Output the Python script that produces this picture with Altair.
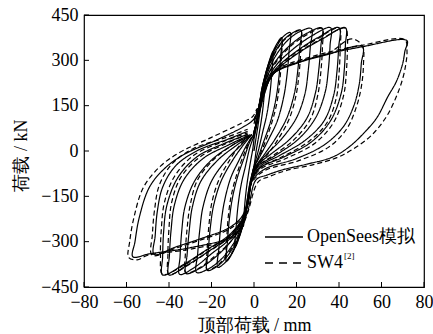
import altair as alt
import pandas as pd

# ---- data ----
x_ticks = [-80, -60, -40, -20, 0, 20, 40, 60, 80]
y_ticks = [-450, -300, -150, 0, 150, 300, 450]

# OpenSees simulation cycles: (displacement mm, load kN)
sim_c1 = [(0, 0), (2, 90), (4, 190), (5.5, 250), (5, 200), (4, 130), (2.5, 60), (1, 0), (0, -50), (-2, -110),
          (-4, -200), (-5, -250), (-4.5, -190), (-3.5, -120), (-2, -50), (-0.5, 10), (0, 40)]
sim_c2 = [(0, 40), (2, 110), (4, 200), (6, 270), (9, 330), (8.5, 270), (7.5, 190), (6, 120), (4, 60), (2, 0),
          (0, -50), (-2, -110), (-4, -200), (-6, -265), (-9, -320), (-8.5, -260), (-7.5, -180), (-6, -110),
          (-4, -50), (-2, 10), (0, 50)]
sim_c3 = [(0, 50), (2, 120), (4, 210), (7, 290), (10, 345), (13, 375), (12.5, 310), (11.5, 230), (10, 160),
          (7.5, 90), (4.5, 30), (2, -20), (0, -55), (-2, -120), (-4, -200), (-7, -280), (-10, -335), (-13, -365),
          (-12.5, -300), (-11.5, -220), (-10, -150), (-7.5, -80), (-4.5, -20), (-2, 30), (0, 55)]
sim_c4 = [(0, 55), (2, 125), (4, 215), (7, 290), (11, 350), (14, 380), (17, 392), (16.5, 330), (15.5, 250),
          (14, 180), (11, 100), (7, 40), (3, -15), (0, -55), (-2, -125), (-4, -210), (-7, -285), (-11, -345),
          (-14, -372), (-17, -385), (-16.5, -320), (-15.5, -240), (-14, -170), (-11, -90), (-7, -30), (-3, 25),
          (0, 55)]
sim_c5 = [(0, 55), (2, 125), (4, 215), (8, 300), (13, 360), (18, 390), (22, 400), (21.5, 340), (20.5, 260),
          (19, 190), (15.5, 110), (10, 40), (5, -10), (1, -50), (-1, -90), (-3, -170), (-5, -240), (-9, -310),
          (-14, -360), (-18, -385), (-22, -395), (-21.5, -330), (-20.5, -250), (-19, -180), (-15.5, -100),
          (-10, -30), (-5, 20), (-1, 55)]
sim_c6 = [(0, 55), (2, 130), (5, 230), (9, 300), (15, 360), (21, 393), (27, 405), (26.5, 345), (25.5, 265),
          (24, 190), (20, 110), (13, 40), (6, -10), (1, -50), (-1, -90), (-3, -170), (-6, -250), (-10, -310),
          (-16, -362), (-22, -392), (-27, -402), (-26.5, -340), (-25.5, -260), (-24, -185), (-20, -100),
          (-13, -30), (-6, 20), (-1, 55)]
sim_c7 = [(0, 55), (2, 130), (5, 225), (10, 295), (17, 350), (25, 390), (32, 407), (31.5, 350), (30.5, 270),
          (29, 195), (25, 110), (17, 40), (8, -10), (2, -45), (-1, -90), (-3, -170), (-6, -245), (-11, -300),
          (-18, -350), (-26, -390), (-32, -405), (-31.5, -345), (-30.5, -265), (-29, -185), (-25, -100),
          (-17, -30), (-8, 20), (-2, 50)]
sim_c8 = [(0, 55), (2, 125), (5, 215), (10, 280), (18, 335), (27, 380), (36, 408), (35.8, 350), (35, 270),
          (33.5, 195), (29, 110), (21, 40), (10, -15), (2, -50), (-1, -95), (-3, -175), (-6, -240), (-12, -295),
          (-20, -340), (-28, -385), (-35, -408), (-34.8, -350), (-34, -265), (-32.5, -185), (-28, -100),
          (-20, -30), (-10, 20), (-2, 50)]
sim_c9 = [(0, 55), (2, 120), (5, 210), (10, 270), (20, 330), (30, 375), (40, 408), (39.8, 340), (39, 260),
          (37.5, 185), (33, 100), (24, 35), (12, -15), (3, -50), (-1, -95), (-3, -175), (-6, -235), (-12, -285),
          (-22, -335), (-32, -380), (-40, -410), (-39.8, -345), (-39, -260), (-37.5, -180), (-33, -95),
          (-24, -25), (-12, 20), (-3, 50)]
sim_c10 = [(0, 55), (2, 115), (5, 200), (10, 262), (20, 320), (32, 370), (43, 408), (43, 350), (42.5, 270),
           (41, 190), (36, 100), (27, 30), (14, -20), (3, -55), (-1, -95), (-3, -175), (-6, -230), (-12, -280),
           (-23, -330), (-33, -375), (-43, -410), (-43, -350), (-42.5, -265), (-41, -180), (-36, -90),
           (-27, -20), (-14, 25), (-3, 55)]
sim_c11 = [(0, 60), (2, 110), (5, 190), (9, 255), (20, 290), (35, 320), (51, 345), (50.5, 290), (49.5, 220),
           (47, 150), (42, 80), (33, 20), (20, -25), (5, -60), (-1, -100), (-3, -170), (-6, -220), (-12, -255),
           (-25, -290), (-37, -318), (-47, -342), (-46.5, -280), (-45.5, -200), (-43, -120), (-37, -50),
           (-27, 0), (-12, 40), (-3, 65)]
sim_c12 = [(0, 90), (2, 140), (5, 200), (9, 255), (26, 305), (51, 345), (72, 365), (71, 330), (70, 290),
           (67, 230), (63, 180), (58, 112), (53, 69), (45, 15), (37, -20), (24, -45), (13.6, -62), (6, -80),
           (1, -95), (-3, -200), (-6, -250), (-11, -285), (-30, -320), (-49, -340), (-57, -350), (-56, -300),
           (-54, -220), (-49, -117), (-41, -51), (-32, -8), (-17.7, 36), (-5, 80), (-0.5, 102), (1.3, 125)]

# SW4 test cycles
exp_c3 = [(0, 50), (2, 115), (4, 200), (7, 285), (10, 340), (13, 372), (12.8, 300), (12, 220), (10.5, 150),
          (8, 85), (5, 25), (2, -25), (0, -60), (-2, -125), (-4, -205), (-7, -282), (-10, -333), (-13, -362),
          (-12.8, -290), (-12, -210), (-10.5, -140), (-8, -75), (-5, -15), (-2, 35), (0, 60)]
exp_c5 = [(0, 60), (2, 130), (4, 210), (8, 295), (13, 358), (18, 388), (22, 398), (22, 335), (21.2, 255),
          (19.8, 185), (16.5, 105), (11, 35), (6, -15), (1, -55), (-1, -95), (-3, -175), (-5, -240), (-9, -305),
          (-14, -355), (-18, -382), (-22, -393), (-22, -325), (-21.2, -245), (-19.8, -170), (-16.5, -95),
          (-11, -25), (-6, 25), (-1, 60)]
exp_c7 = [(0, 60), (2, 135), (5, 225), (10, 290), (17, 345), (25, 385), (32, 405), (32.2, 345), (31.5, 265),
          (30, 185), (26.5, 105), (18.5, 35), (9, -15), (2, -50), (-1, -95), (-3, -175), (-6, -250), (-11, -300),
          (-18, -345), (-26, -388), (-32, -403), (-32.3, -340), (-31.5, -258), (-30, -178), (-26.5, -95),
          (-18.5, -25), (-9, 25), (-2, 55)]
exp_c9 = [(0, 60), (2, 125), (5, 210), (10, 268), (20, 328), (30, 372), (40, 406), (40.5, 335), (40, 255),
          (38.8, 178), (34.5, 95), (25.5, 30), (13, -20), (3, -55), (-1, -100), (-3, -180), (-6, -238),
          (-12, -288), (-22, -336), (-32, -382), (-40, -408), (-40.5, -340), (-40, -255), (-38.8, -172),
          (-34.5, -88), (-25.5, -20), (-13, 25), (-3, 55)]
exp_c10 = [(0, 60), (2, 118), (5, 200), (10, 262), (20, 322), (32, 372), (43, 406), (44, 370), (44, 345),
           (43.5, 265), (42.2, 185), (37.5, 95), (28.5, 25), (15, -25), (3, -60), (-1, -100), (-3, -180),
           (-6, -232), (-12, -282), (-23, -332), (-33, -378), (-43, -408), (-44, -345), (-43.6, -258),
           (-42.2, -172), (-37.5, -85), (-28.5, -15), (-15, 30), (-3, 60)]
exp_c11 = [(0, 65), (2, 115), (5, 195), (9, 258), (20, 294), (35, 324), (46, 371), (51, 348), (51.5, 285),
           (50.5, 212), (48, 142), (43.5, 72), (35, 12), (21, -32), (5, -65), (-1, -105), (-3, -175), (-6, -225),
           (-12, -260), (-25, -294), (-37, -322), (-48, -345), (-47.8, -275), (-46.8, -195), (-44.5, -112),
           (-38.5, -42), (-28.5, 8), (-13, 45), (-3, 72)]
exp_c12 = [(0, 100), (2, 148), (5, 205), (9, 262), (26, 310), (51, 350), (71, 368), (72, 330), (71.5, 290),
           (70, 240), (67, 180), (62, 110), (55, 50), (47, 8), (39, -22), (28, -45), (15, -65), (7, -85),
           (2, -102), (-3, -205), (-6, -255), (-11, -290), (-30, -325), (-50, -345), (-55, -360), (-59, -352),
           (-58.5, -300), (-56.5, -220), (-52, -120), (-44, -50), (-35, -5), (-20, 45), (-6, 92), (-0.5, 115),
           (1.3, 140)]

sim_cycles = [sim_c1, sim_c2, sim_c3, sim_c4, sim_c5, sim_c6, sim_c7, sim_c8, sim_c9, sim_c10, sim_c11, sim_c12]
exp_cycles = [exp_c3, exp_c5, exp_c7, exp_c9, exp_c10, exp_c11, exp_c12]

rows = []
for name, cycles in (("sim", sim_cycles), ("exp", exp_cycles)):
    for ci, cyc in enumerate(cycles):
        for i, (x, y) in enumerate(cyc):
            rows.append({"x": x, "y": y, "series": name, "key": f"{name}{ci}", "idx": i})
df = pd.DataFrame(rows)

SERIF = "Liberation Serif"
W, H = 340, 272

xs = alt.Scale(domain=[-80, 80], nice=False, zero=False)
ys = alt.Scale(domain=[-450, 450], nice=False, zero=False)

lines = alt.Chart(df).mark_line(color="black", strokeWidth=1.2, interpolate="catmull-rom", clip=True).encode(
    x=alt.X("x:Q", scale=xs, axis=alt.Axis(values=x_ticks, title="顶部荷载 / mm", titleY=38,
                                            titleBaseline="middle", labelPadding=6)),
    y=alt.Y("y:Q", scale=ys, axis=alt.Axis(values=y_ticks, title="荷载 / kN", titleX=-63, titleY=140,
                                            titleAngle=-90, titleAlign="center", titleBaseline="middle",
                                            labelPadding=6)),
    detail="key:N",
    order="idx:Q",
    strokeDash=alt.StrokeDash("series:N", scale=alt.Scale(domain=["sim", "exp"], range=[[1, 0], [5, 3]]),
                              legend=None),
)

xt = alt.Chart(pd.DataFrame({"v": x_ticks})).mark_rule(color="black", strokeWidth=1).encode(
    x=alt.X("v:Q", scale=xs), y=alt.value(H), y2=alt.value(H - 5))
yt = alt.Chart(pd.DataFrame({"v": y_ticks})).mark_rule(color="black", strokeWidth=1).encode(
    y=alt.Y("v:Q", scale=ys), x=alt.value(0), x2=alt.value(5))

one = pd.DataFrame({"a": [0]})
leg1 = alt.Chart(one).mark_rule(color="black", strokeWidth=1.3).encode(
    x=alt.value(181), x2=alt.value(219), y=alt.value(222))
leg2 = alt.Chart(one).mark_rule(color="black", strokeWidth=1.3, strokeDash=[8, 6]).encode(
    x=alt.value(181), x2=alt.value(219), y=alt.value(248))
t1 = alt.Chart(one).mark_text(align="left", baseline="middle", font=SERIF, fontSize=18, color="black").encode(
    x=alt.value(223), y=alt.value(222), text=alt.value("OpenSees模拟"))
t2 = alt.Chart(one).mark_text(align="left", baseline="middle", font=SERIF, fontSize=18, color="black").encode(
    x=alt.value(223), y=alt.value(248), text=alt.value("SW4"))
t3 = alt.Chart(one).mark_text(align="left", baseline="middle", font=SERIF, fontSize=9, color="black").encode(
    x=alt.value(260), y=alt.value(241), text=alt.value("[2]"))

chart = alt.layer(lines, xt, yt, leg1, leg2, t1, t2, t3).properties(
    width=W, height=H,
    autosize=alt.AutoSizeParams(type="none"),
    padding={"left": 84, "top": 15, "right": 9, "bottom": 47},
).configure(background="white", font=SERIF).configure_view(stroke="black", strokeWidth=1.2).configure_axis(
    grid=False, ticks=False, domain=False, labelFlush=False,
    labelFont=SERIF, labelFontSize=18, labelColor="black",
    titleFont=SERIF, titleFontSize=18, titleFontWeight="normal", titleColor="black",
)

chart.save("out.html", embed_options={"renderer": "svg", "actions": False})
